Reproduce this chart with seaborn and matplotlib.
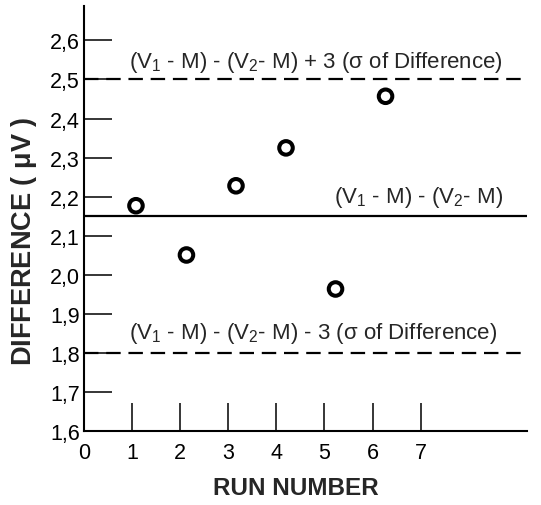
import numpy as np
import pandas as pd
import matplotlib
matplotlib.use('Agg')
import matplotlib.pyplot as plt
import seaborn as sns

# runs (the circles sit a little right of the ticks)
run_pos = [1.08, 2.13, 3.16, 4.20, 5.23, 6.27]
difference = [2.177, 2.051, 2.228, 2.325, 1.964, 2.457]

mean_diff = 2.15
upper_lim = 2.50
lower_lim = 1.80

y_ticks = [1.6, 1.7, 1.8, 1.9, 2.0, 2.1, 2.2, 2.3, 2.4, 2.5, 2.6]
x_ticks = [0, 1, 2, 3, 4, 5, 6, 7]

sns.set_style('ticks')
plt.rcParams['font.family'] = ['Liberation Sans', 'DejaVu Sans']
plt.rcParams['mathtext.fontset'] = 'custom'
plt.rcParams['mathtext.rm'] = 'Liberation Sans'
plt.rcParams['mathtext.it'] = 'Liberation Sans:italic'
plt.rcParams['mathtext.bf'] = 'Liberation Sans:bold'

df = pd.DataFrame({'run': run_pos, 'diff': difference})

fig = plt.figure(figsize=(5.41, 5.06), dpi=100)
ax = fig.add_axes([0.1553, 0.1457, 0.8187, 0.8405])

ax.axhline(mean_diff, color='black', lw=1.6)
ax.axhline(upper_lim, color='black', lw=1.6, ls=(0, (6.5, 3.5)))
ax.axhline(lower_lim, color='black', lw=1.6, ls=(0, (6.5, 3.5)))

sns.scatterplot(data=df, x='run', y='diff', ax=ax, marker='o', s=95,
                facecolor='none', edgecolor='black', linewidth=2.9, zorder=5)

sub = lambda s: r'$_\mathregular{' + s + '}$'
ax.text(0.94, upper_lim + 0.031,
        '(V' + sub('1') + ' - M) - (V' + sub('2') + '- M) + 3 (σ of Difference)',
        fontsize=16, ha='left', va='baseline')
ax.text(8.71, mean_diff + 0.036,
        '(V' + sub('1') + ' - M) - (V' + sub('2') + '- M)',
        fontsize=16, ha='right', va='baseline')
ax.text(0.94, lower_lim + 0.038,
        '(V' + sub('1') + ' - M) - (V' + sub('2') + '- M) - 3 (σ of Difference)',
        fontsize=16, ha='left', va='baseline')

ax.set_xlim(0, 9.21)
ax.set_ylim(1.6, 2.688)
ax.set_xticks(x_ticks)
ax.set_xticklabels([str(v) for v in x_ticks])
ax.set_yticks(y_ticks)
ax.set_yticklabels([('%.1f' % v).replace('.', ',') for v in y_ticks])
ax.tick_params(axis='both', direction='in', length=20, width=1.1,
               labelsize=15.5, colors='black')
ax.tick_params(axis='y', pad=3)
ax.tick_params(axis='x', pad=8)

sns.despine(ax=ax, top=True, right=True)
for sp in ['left', 'bottom']:
    ax.spines[sp].set_linewidth(1.5)
    ax.spines[sp].set_color('black')

ax.set_xlabel('RUN NUMBER', fontsize=17.5, fontweight='bold')
ax.set_ylabel(r'DIFFERENCE ( $\mathregular{\mu}$V )', fontsize=19.5, fontweight='bold')
ax.xaxis.set_label_coords((296 - 84) / 443, -(488.7 - 432.3) / 425.3)
ax.yaxis.set_label_coords((24 - 84) / 443, (432.3 - 241) / 425.3)
ax.xaxis.label.set_va('center')
ax.yaxis.label.set_va('center')

fig.savefig('out.png', dpi=100)
